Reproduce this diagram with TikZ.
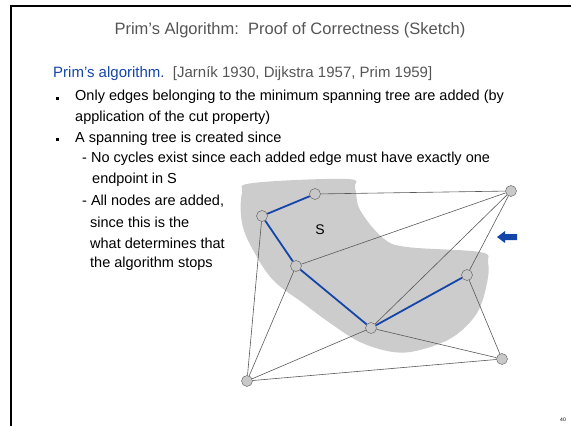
\documentclass[tikz,border=0pt]{standalone}
\usepackage{fontspec}
\setmainfont{Liberation Sans}
\usepackage{tikz}
\usetikzlibrary{positioning,arrows.meta,calc}

\definecolor{primblue}{RGB}{20,70,170}
\definecolor{titlegray}{RGB}{85,85,85}
\definecolor{cutgray}{RGB}{204,204,204}
\definecolor{vtxgray}{RGB}{200,200,200}

\tikzset{
  vtx/.style={circle,draw=black!65,fill=vtxgray,inner sep=0pt,minimum size=11pt},
  txt/.style={anchor=west,inner sep=0pt,font=\fontsize{14.5}{16}\selectfont},
  edge/.style={draw=black!65,line width=0.6pt},
  treeedge/.style={draw=primblue,line width=1.8pt}
}

\begin{document}
\begin{tikzpicture}[x=1pt,y=-1pt]
  \useasboundingbox (0,0) rectangle (571,426);
  % slide frame
  \draw[line width=2pt] (11,426) -- (11,6) -- (571,6);
  \node[font=\fontsize{16.5}{18}\selectfont,text=titlegray] (title) at (290,30) {Prim's Algorithm:\ \ Proof of Correctness (Sketch)};
  \node[txt,font=\fontsize{15}{16}\selectfont,text=primblue] (head) at (53,74) {Prim's algorithm.\ \ \textcolor{titlegray}{[Jarník 1930, Dijkstra 1957, Prim 1959]}};
  % bullets
  \foreach \y in {97,138}{\fill (56,\y) rectangle +(3,3);}
  \node[txt] (b1) at (75,97) {Only edges belonging to the minimum spanning tree are added (by};
  \node[txt] (b1b) at (75,118) {application of the cut property)};
  \node[txt] (b2) at (75,139) {A spanning tree is created since};
  \node[txt] (c1) at (82,159) {- No cycles exist since each added edge must have exactly one};
  \node[txt] (c1b) at (92,180) {endpoint in S};
  \node[txt] (c2) at (82,201) {- All nodes are added,};
  \node[txt] (c2b) at (90,222) {since this is the};
  \node[txt] (c2c) at (90,243) {what determines that};
  \node[txt] (c2d) at (90,264) {the algorithm stops};
  % the cut S
  \fill[cutgray] plot[smooth cycle,tension=0.6] coordinates {(242,193) (253,183) (347,179) (355,188) (360,210) (383,238) (407,247) (480,252) (488,262) (487,283) (477,313) (453,337) (420,350) (393,352) (360,342) (330,323) (303,303) (273,280) (253,250) (242,223)};
  \node[font=\fontsize{14}{15}\selectfont] (S) at (320,230) {S};
  % vertices
  \node[vtx] (v1) at (315,194) {};
  \node[vtx] (v2) at (262,216) {};
  \node[vtx] (v3) at (296,266) {};
  \node[vtx] (v4) at (371,328) {};
  \node[vtx] (v5) at (467,275) {};
  \node[vtx] (v6) at (511,191) {};
  \node[vtx] (v7) at (502,359) {};
  \node[vtx] (v8) at (247,381) {};
  \foreach \a/\b in {v1/v6,v6/v3,v6/v4,v6/v5,v2/v8,v3/v8,v4/v8,v8/v7,v4/v7,v5/v7}{\draw[edge] (\a) -- (\b);}
  \foreach \a/\b in {v1/v2,v2/v3,v3/v4,v4/v5}{\draw[treeedge] (\a) -- (\b);}
  % arrow pointing at the cut
  \fill[primblue] (497,237) -- (505,231) -- (505,234) -- (517,234) -- (517,240) -- (505,240) -- (505,243) -- cycle;
  \node[font=\fontsize{5}{6}\selectfont] (pg) at (563,420) {40};
\end{tikzpicture}
\end{document}
